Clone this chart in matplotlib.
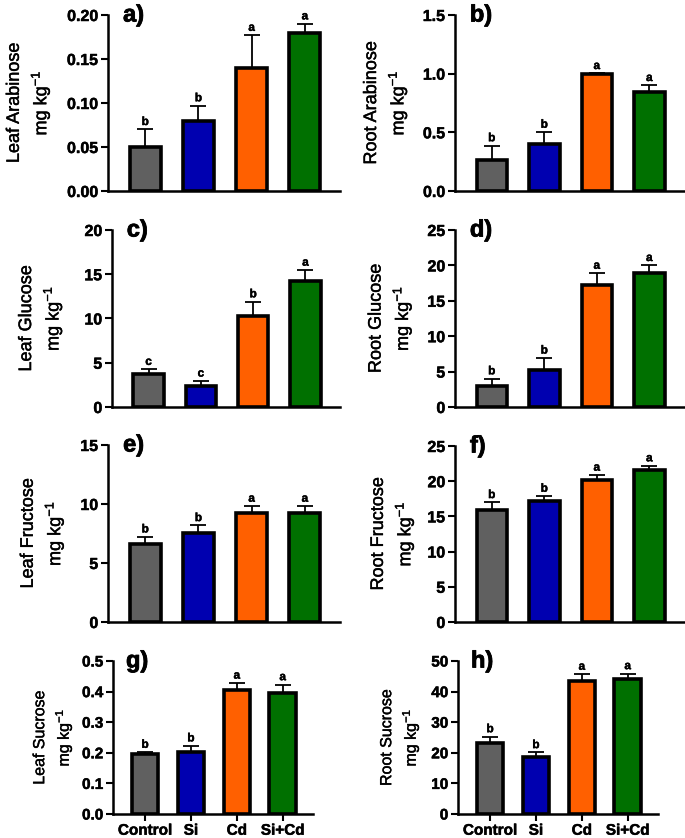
import matplotlib
matplotlib.use("Agg")
import matplotlib.pyplot as plt
import matplotlib.patheffects as pe
from matplotlib.ticker import FormatStrFormatter

plt.rcParams['font.family'] = ['Liberation Sans', 'DejaVu Sans']
plt.rcParams['mathtext.fontset'] = 'custom'
plt.rcParams['mathtext.rm'] = 'Liberation Sans'
plt.rcParams['mathtext.it'] = 'Liberation Sans'
plt.rcParams['mathtext.bf'] = 'Liberation Sans:bold'

groups = ["Control", "Si", "Cd", "Si+Cd"]
colors = ["#606060", "#0000b0", "#ff6000", "#007000"]

leaf_arabinose = [0.050, 0.080, 0.140, 0.180]
leaf_arabinose_err = [0.020, 0.017, 0.037, 0.010]
leaf_arabinose_let = ["b", "b", "a", "a"]

root_arabinose = [0.267, 0.397, 0.998, 0.842]
root_arabinose_err = [0.120, 0.105, 0.004, 0.058]
root_arabinose_let = ["b", "b", "a", "a"]

leaf_glucose = [3.70, 2.34, 10.26, 14.26]
leaf_glucose_err = [0.56, 0.60, 1.64, 1.21]
leaf_glucose_let = ["c", "c", "b", "a"]

root_glucose = [2.97, 5.28, 17.2, 18.96]
root_glucose_err = [1.03, 1.65, 1.70, 1.04]
root_glucose_let = ["b", "b", "a", "a"]

leaf_fructose = [6.60, 7.56, 9.20, 9.20]
leaf_fructose_err = [0.62, 0.62, 0.62, 0.62]
leaf_fructose_let = ["b", "b", "a", "a"]

root_fructose = [15.9, 17.22, 20.16, 21.54]
root_fructose_err = [1.08, 0.66, 0.71, 0.66]
root_fructose_let = ["b", "b", "a", "a"]

leaf_sucrose = [0.195, 0.202, 0.405, 0.396]
leaf_sucrose_err = [0.007, 0.021, 0.023, 0.027]
leaf_sucrose_let = ["b", "b", "a", "a"]

root_sucrose = [23.1, 18.5, 43.5, 44.1]
root_sucrose_err = [2.2, 1.6, 2.2, 1.8]
root_sucrose_let = ["b", "b", "a", "a"]

W, H = 685, 838
fig = plt.figure(figsize=(W / 100, H / 100), dpi=100)

heavy = [pe.withStroke(linewidth=0.6, foreground="black")]
tickfx = [pe.withStroke(linewidth=0.35, foreground="black")]
semi = [pe.withStroke(linewidth=0.3, foreground="black")]

def px_axes(x0, y0, x1, y1):
    return fig.add_axes([x0 / W, 1 - y1 / H, (x1 - x0) / W, (y1 - y0) / H])

panels = [
    ((108, 15, 340, 191), leaf_arabinose, leaf_arabinose_err, leaf_arabinose_let,
     "Leaf Arabinose", [0, 0.05, 0.10, 0.15, 0.20], "%.2f", -0.34, "a)", False),
    ((455, 15, 684, 191), root_arabinose, root_arabinose_err, root_arabinose_let,
     "Root Arabinose", [0, 0.5, 1.0, 1.5], "%.1f", -0.30, "b)", False),
    ((112, 230, 340, 407), leaf_glucose, leaf_glucose_err, leaf_glucose_let,
     "Leaf Glucose", [0, 5, 10, 15, 20], "%d", -0.31, "c)", False),
    ((455, 230, 684, 407), root_glucose, root_glucose_err, root_glucose_let,
     "Root Glucose", [0, 5, 10, 15, 20, 25], "%d", -0.28, "d)", False),
    ((108, 445, 340, 622), leaf_fructose, leaf_fructose_err, leaf_fructose_let,
     "Leaf Fructose", [0, 5, 10, 15], "%d", -0.28, "e)", False),
    ((455, 446, 684, 622), root_fructose, root_fructose_err, root_fructose_let,
     "Root Fructose", [0, 5, 10, 15, 20, 25], "%d", -0.27, "f)", False),
    ((113, 661, 313, 814), leaf_sucrose, leaf_sucrose_err, leaf_sucrose_let,
     "Leaf Sucrose", [0, 0.1, 0.2, 0.3, 0.4, 0.5], "%.1f", -0.30, "g)", True),
    ((458, 661, 658, 814), root_sucrose, root_sucrose_err, root_sucrose_let,
     "Root Sucrose", [0, 10, 20, 30, 40, 50], "%d", -0.29, "h)", True),
]

xpos = list(range(len(groups)))

for box, vals, errs, lets, name, ticks, fmt, labx, plab, bottom in panels:
    ax = px_axes(*box)
    ax.bar(xpos, vals, width=0.58, color=colors, edgecolor="black",
           linewidth=2.6, zorder=3)
    ax.errorbar(xpos, vals, yerr=[[0] * len(errs), errs], fmt="none",
                ecolor="black", elinewidth=1.3, capsize=6, capthick=1.3,
                zorder=2)
    for x, v, e, l in zip(xpos, vals, errs, lets):
        ax.annotate(l, (x, v + e), xytext=(0, 1), textcoords="offset points",
                    ha="center", va="bottom", fontsize=8.5, fontweight="bold",
                    path_effects=semi)
    ax.set_xlim(-0.70, 3.66)
    ax.set_ylim(0, ticks[-1])
    ax.set_yticks(ticks)
    ax.yaxis.set_major_formatter(FormatStrFormatter(fmt))
    for s in ("top", "right"):
        ax.spines[s].set_visible(False)
    for s in ("left", "bottom"):
        ax.spines[s].set_linewidth(1.8)
    ax.tick_params(axis="y", length=5, width=1.5,
                   labelsize=11.5 if not bottom else 11, pad=2)
    for t in ax.get_yticklabels():
        t.set_fontweight("bold")
        t.set_path_effects(tickfx)
    if bottom:
        ax.set_xticks(xpos)
        ax.set_xticklabels(groups, fontsize=11, fontweight="bold")
        for t in ax.get_xticklabels():
            t.set_path_effects(tickfx)
        ax.tick_params(axis="x", length=5, width=1.5, pad=2)
    else:
        ax.set_xticks([])
    fs = 13 if not bottom else 11.5
    ax.text(labx, 0.5, name + "\nmg kg$^{\\mathregular{-1}}$", transform=ax.transAxes,
            rotation=90, ha="center", va="center", multialignment="center",
            fontsize=fs, linespacing=1.3, path_effects=semi)
    ax.text(0.065, 1.0, plab, transform=ax.transAxes, ha="left", va="center",
            fontsize=17, fontweight="bold", path_effects=heavy)

fig.savefig("out.png", dpi=100)
